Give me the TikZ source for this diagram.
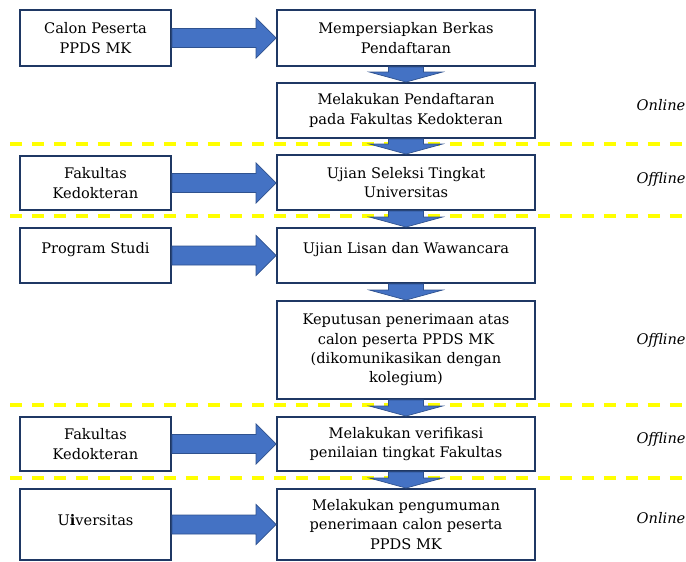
\documentclass[tikz,border=0pt]{standalone}
\usepackage{fontspec}
\setmainfont{DejaVu Serif}
\usepackage{tikz}
\usetikzlibrary{calc}

\definecolor{boxline}{HTML}{1F3864}
\definecolor{arrowfill}{HTML}{4472C4}
\definecolor{arrowline}{HTML}{2F528F}
\definecolor{sepyellow}{HTML}{FFFF00}

% block arrow pointing right, from node #1 to node #2
\newcommand{\rightblock}[2]{%
  \draw[blockarrow] let \p1=(#1.east), \p2=(#2.west) in
    (\x1,\y1+0.19cm) -- (\x2-0.4cm,\y1+0.19cm) -- (\x2-0.4cm,\y1+0.4cm) -- (\x2,\y1)
    -- (\x2-0.4cm,\y1-0.4cm) -- (\x2-0.4cm,\y1-0.19cm) -- (\x1,\y1-0.19cm) -- cycle;}
% block arrow pointing down, from node #1 to node #2
\newcommand{\downblock}[2]{%
  \draw[blockarrow] let \p1=(#1.south), \p2=(#2.north) in
    (\x1-0.35cm,\y1) -- (\x1-0.35cm,\y2+0.2cm) -- (\x1-0.73cm,\y2+0.2cm) -- (\x1,\y2)
    -- (\x1+0.73cm,\y2+0.2cm) -- (\x1+0.35cm,\y2+0.2cm) -- (\x1+0.35cm,\y1) -- cycle;}

\begin{document}
\begin{tikzpicture}[
  x=0.02cm, y=-0.02cm,
  every node/.style={font=\fontsize{8.3}{11}\selectfont},
  block/.style={draw=boxline, line width=1.1pt, fill=white, rectangle, align=center, inner sep=2pt},
  actor/.style={block, minimum width=3.02cm},
  stage/.style={block, minimum width=5.16cm},
  blockarrow/.style={fill=arrowfill, draw=arrowline, line width=0.4pt},
  sepline/.style={draw=sepyellow, line width=0.08cm, dash pattern=on 0.24cm off 0.2cm},
  mode/.style={inner sep=0pt, font=\fontsize{8.3}{11}\selectfont\itshape}
]
  \useasboundingbox (0,0) rectangle (686,561);

  % separators between the phases
  \foreach \ypos in {144,216,405,478}
    \draw[sepline] (10,\ypos) -- (686,\ypos);

  % who does it (left column)
  \node (calon) [actor, minimum height=1.12cm] at (95.5,38) {Calon Peserta\\PPDS MK};
  \node (fk_a) [actor, minimum height=1.08cm] at (95.5,183) {Fakultas\\Kedokteran};
  \node (prodi) [actor, minimum height=1.10cm, text depth=0.3cm] at (95.5,255.5) {Program Studi};
  \node (fk_b) [actor, minimum height=1.08cm] at (95.5,444) {Fakultas\\Kedokteran};
  \node (univ) [actor, minimum height=1.42cm, text depth=0.2cm] at (95.5,524.5) {U\textbf{i}versitas};

  % what is done (right column)
  \node (berkas) [stage, minimum height=1.12cm] at (406,38) {Mempersiapkan Berkas\\Pendaftaran};
  \node (daftar) [stage, minimum height=1.10cm] at (406,110.5) {Melakukan Pendaftaran\\pada Fakultas Kedokteran};
  \node (seleksi) [stage, minimum height=1.10cm] at (406,182.5) {Ujian Seleksi Tingkat\\Universitas};
  \node (lisan) [stage, minimum height=1.10cm, text depth=0.3cm] at (406,255.5) {Ujian Lisan dan Wawancara};
  \node (putusan) [stage, minimum height=1.96cm] at (406,350) {Keputusan penerimaan atas\\calon peserta PPDS MK\\(dikomunikasikan dengan\\kolegium)};
  \node (verif) [stage, minimum height=1.08cm] at (406,444) {Melakukan verifikasi\\penilaian tingkat Fakultas};
  \node (umum) [stage, minimum height=1.42cm] at (406,524.5) {Melakukan pengumuman\\penerimaan calon peserta\\PPDS MK};

  % actor to step
  \rightblock{calon}{berkas}
  \rightblock{fk_a}{seleksi}
  \rightblock{prodi}{lisan}
  \rightblock{fk_b}{verif}
  \rightblock{univ}{umum}

  % step to step
  \downblock{berkas}{daftar}
  \downblock{daftar}{seleksi}
  \downblock{seleksi}{lisan}
  \downblock{lisan}{putusan}
  \downblock{putusan}{verif}
  \downblock{verif}{umum}

  % online / offline
  \node (mode_a) [mode] at (661,105) {Online};
  \node (mode_b) [mode] at (661,179) {Offline};
  \node (mode_c) [mode] at (661,340) {Offline};
  \node (mode_d) [mode] at (661,439) {Offline};
  \node (mode_e) [mode] at (661,518) {Online};

\end{tikzpicture}
\end{document}
